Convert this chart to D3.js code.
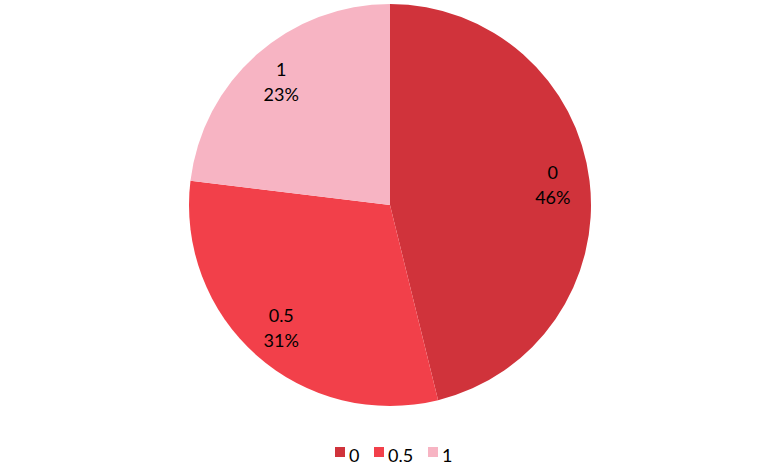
<!DOCTYPE html>
<html><head><meta charset="utf-8">
<script src="https://cdn.jsdelivr.net/npm/d3@7"></script>
<style>body{margin:0;background:#fff}svg{display:block;font-family:Lato,"Liberation Sans",sans-serif}</style>
</head><body>
<svg id="c" width="780" height="466"></svg>
<script>
const categories = ["0", "0.5", "1"];
const values = [6, 4, 3];
const colors = ["#d0333b", "#f2404a", "#f7b4c3"];

const svg = d3.select("#c");
const cx = 390, cy = 205, r = 201;
const pie = d3.pie().sort(null).value(d => d.v);
const data = categories.map((c, i) => ({c, v: values[i], col: colors[i]}));
const arcs = pie(data);
const total = d3.sum(values);
const arc = d3.arc().innerRadius(0).outerRadius(r);
const labelArc = d3.arc().innerRadius(164).outerRadius(164);
const g = svg.append("g").attr("transform", `translate(${cx},${cy})`);
g.selectAll("path").data(arcs).join("path").attr("d", arc).attr("fill", d => d.data.col);
const lab = g.selectAll("g.l").data(arcs).join("g").attr("class", "l")
  .attr("transform", d => `translate(${labelArc.centroid(d)})`);
lab.append("text").attr("text-anchor", "middle").attr("y", -6).attr("font-size", 18).attr("fill", "#000").text(d => d.data.c);
lab.append("text").attr("text-anchor", "middle").attr("y", 19).attr("font-size", 18).attr("fill", "#000")
  .text(d => Math.round(d.data.v / total * 100) + "%");

const legX = [335, 374, 428];
const leg = svg.append("g");
data.forEach((d, i) => {
  leg.append("rect").attr("x", legX[i]).attr("y", 447).attr("width", 10).attr("height", 10).attr("fill", d.col);
  leg.append("text").attr("x", legX[i] + 14).attr("y", 462).attr("font-size", 18).attr("fill", "#000").text(d.c);
});
</script>
</body></html>
